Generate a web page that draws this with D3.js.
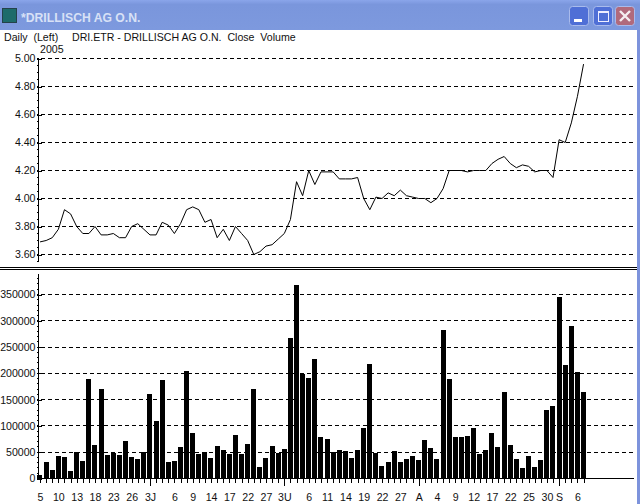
<!DOCTYPE html>
<html>
<head>
<meta charset="utf-8">
<script src="https://cdn.jsdelivr.net/npm/d3@7"></script>
<style>
  html, body { margin: 0; padding: 0; background: #fff; }
  svg { display: block; }
  text { font-family: "Liberation Sans", Arial, sans-serif; font-size: 10.6px; fill: #111; }
</style>
</head>
<body>
<div id="chart"></div>
<script>
const closeValues = [3.69,3.70,3.72,3.78,3.92,3.89,3.80,3.75,3.75,3.80,3.74,3.74,3.75,3.72,3.72,3.80,3.82,3.78,3.74,3.74,3.83,3.81,3.75,3.82,3.92,3.94,3.92,3.83,3.85,3.72,3.78,3.70,3.80,3.75,3.70,3.60,3.62,3.66,3.67,3.71,3.75,3.85,4.12,4.02,4.20,4.10,4.19,4.19,4.19,4.14,4.14,4.14,4.15,4.00,3.92,4.01,4.00,4.04,4.02,4.06,4.02,4.01,4.00,4.00,3.97,4.00,4.07,4.20,4.20,4.20,4.19,4.20,4.20,4.20,4.25,4.28,4.30,4.25,4.22,4.24,4.23,4.19,4.20,4.20,4.15,4.42,4.40,4.54,4.73,4.96];
const volumeValues = [6000,31000,16000,42000,40000,14000,51000,33000,190000,63000,171000,44000,48000,44000,71000,40000,38000,51000,160000,109000,188000,31000,33000,59000,204000,86000,46000,50000,39000,61000,54000,46000,82000,46000,65000,171000,21000,39000,61000,48000,57000,268000,369000,199000,192000,228000,78000,76000,51000,54000,52000,39000,54000,96000,217000,48000,23000,31000,52000,31000,37000,42000,35000,73000,58000,37000,282000,190000,78000,78000,80000,96000,46000,54000,86000,59000,164000,63000,37000,20000,42000,22000,35000,130000,137000,346000,215000,291000,202000,164000];
const closeTicks = [3.6,3.8,4.0,4.2,4.4,4.6,4.8,5.0];
const volumeTicks = [0,50000,100000,150000,200000,250000,300000,350000];
// bar number (from 0) -> label on the date axis
const dateIndex = [0,3,6,9,12,15,18,22,25,28,31,34,37,40,44,47,50,53,56,59,62,65,68,71,74,77,80,83,85,88];
const dateLabels = ["5","10","13","18","23","26","3J","6","9","14","17","22","27","3U","6","11","14","19","22","27","A","4","9","12","17","22","25","30","S","6"];
const monthIndex = [18,40,62,85];
const titleText = "*DRILLISCH AG O.N.";
const headerLeft = "Daily  (Left)";
const headerText = "DRI.ETR - DRILLISCH AG O.N.  Close  Volume";
const yearText = "2005";

const width = 640, height = 504;
const titleH = 30, borderR = 3;
const axisX = 38, gridEnd = 634;

const svg = d3.select('#chart').append('svg')
  .attr('width', width)
  .attr('height', height);

svg.append('rect').attr('width', width).attr('height', height).attr('fill', '#fff');

/** window frame */
const defs = svg.append('defs');
const grad = defs.append('linearGradient').attr('id', 'bar').attr('x1', 0).attr('x2', 0).attr('y1', 0).attr('y2', 1);
grad.append('stop').attr('offset', '0').attr('stop-color', '#8aa5ea');
grad.append('stop').attr('offset', '0.15').attr('stop-color', '#7a96dc');
grad.append('stop').attr('offset', '1').attr('stop-color', '#7d99de');

svg.append('rect').attr('width', width).attr('height', titleH).attr('fill', 'url(#bar)');
svg.append('rect').attr('x', width - borderR).attr('y', titleH).attr('width', borderR).attr('height', height - titleH).attr('fill', '#7d93dc');

svg.append('rect').attr('x', 2.5).attr('y', 8.5).attr('width', 14).attr('height', 14).attr('fill', '#1d6b6b').attr('stroke', '#24424a');
svg.append('text').attr('x', 21).attr('y', 21.5).text(titleText)
  .style('font-size', '12.2px').style('font-weight', 'bold').style('fill', '#d8e1f6');

const buttons = [
  {x: 569.5, fill: '#4f6fd6'},
  {x: 593.5, fill: '#4f6fd6'},
  {x: 615.5, fill: '#b06a7c'}
];
svg.selectAll('.winbtn').data(buttons).enter().append('rect')
  .attr('class', 'winbtn')
  .attr('x', d => d.x).attr('y', 6.5)
  .attr('width', 19).attr('height', 19).attr('rx', 3)
  .attr('fill', d => d.fill).attr('stroke', '#a9bbec');
svg.append('rect').attr('x', 574).attr('y', 19).attr('width', 8).attr('height', 3).attr('fill', '#fff');
svg.append('rect').attr('x', 598.5).attr('y', 12.5).attr('width', 10).attr('height', 9).attr('fill', 'none').attr('stroke', '#eef').attr('stroke-width', 1);
svg.append('rect').attr('x', 598).attr('y', 11).attr('width', 11).attr('height', 2).attr('fill', '#eef');
svg.append('path').attr('d', 'M620,11 L630,21 M630,11 L620,21').attr('stroke', '#f4eef0').attr('stroke-width', 2.4);

/** header */
svg.append('text').attr('x', 4).attr('y', 41).style('white-space', 'pre').text(headerLeft);
svg.append('text').attr('x', 72).attr('y', 41).style('white-space', 'pre').text(headerText);
svg.append('text').attr('x', 40).attr('y', 53).text(yearText);

/** panel divider */
svg.append('line').attr('x1', 0).attr('x2', width - borderR).attr('y1', 267.5).attr('y2', 267.5).attr('stroke', '#000');
svg.append('line').attr('x1', 0).attr('x2', width - borderR).attr('y1', 269.5).attr('y2', 269.5).attr('stroke', '#000');

/** scales */
const indexes = d3.range(volumeValues.length);
const scaleX = d3.scaleBand()
  .domain(indexes)
  .range([37, 586.6])
  .paddingInner(0.16)
  .paddingOuter(0.08);
const centerX = i => scaleX(i) + scaleX.bandwidth() / 2;

const scaleClose = d3.scaleLinear().domain([3.6, 5.0]).range([254.5, 58.5]);
const scaleVolume = d3.scaleLinear().domain([0, 350000]).range([478.5, 294.5]);
const crisp = v => Math.round(v - 0.5) + 0.5;

/** grids */
function drawGrid(ticks, scale) {
  svg.append('g').selectAll('line').data(ticks).enter().append('line')
    .attr('x1', axisX + 3).attr('x2', gridEnd)
    .attr('y1', d => crisp(scale(d))).attr('y2', d => crisp(scale(d)))
    .attr('stroke', '#000')
    .attr('stroke-dasharray', '4,3');
}
drawGrid(closeTicks, scaleClose);
drawGrid(volumeTicks.slice(1), scaleVolume);

/** y axes */
const closeAxis = d3.axisLeft(scaleClose)
  .tickValues(closeTicks)
  .tickSize(0)
  .tickPadding(3)
  .tickFormat(d3.format('.2f'));
const closeG = svg.append('g').attr('transform', `translate(${axisX + 0.5},0)`).call(closeAxis);

const volumeAxis = d3.axisLeft(scaleVolume)
  .tickValues(volumeTicks)
  .tickSize(0)
  .tickPadding(3)
  .tickFormat(d3.format('d'));
const volumeG = svg.append('g').attr('transform', `translate(${axisX + 0.5},0)`).call(volumeAxis);

[closeG, volumeG].forEach(g => {
  g.select('.domain').remove();
  g.attr('font-family', null).attr('font-size', null);
  g.selectAll('.tick line').attr('x1', -2).attr('x2', 3).attr('stroke', '#000').attr('shape-rendering', 'crispEdges');
});

// axis lines with the small ticks
function drawSpine(y0, y1, minor, scale) {
  svg.append('line').attr('x1', axisX + 0.5).attr('x2', axisX + 0.5).attr('y1', y0).attr('y2', y1).attr('stroke', '#000');
  svg.append('g').selectAll('line').data(minor).enter().append('line')
    .attr('x1', axisX - 1).attr('x2', axisX + 1)
    .attr('y1', d => crisp(scale(d))).attr('y2', d => crisp(scale(d)))
    .attr('stroke', '#000');
}
drawSpine(58, 261, d3.range(3.55, 5.0, 0.05), scaleClose);
drawSpine(274, 479, d3.range(0, 390000, 10000), scaleVolume);

/** price line */
svg.append('path')
  .datum(closeValues)
  .attr('fill', 'none')
  .attr('stroke', '#000')
  .attr('stroke-width', 1)
  .attr('stroke-linejoin', 'round')
  .attr('d', d3.line()
    .x((d, i) => centerX(i))
    .y(d => scaleClose(d)));

/** volume bars */
svg.append('g').attr('shape-rendering', 'crispEdges').selectAll('rect')
  .data(volumeValues)
  .enter().append('rect')
    .attr('x', (d, i) => Math.round(scaleX(i)))
    .attr('y', d => Math.round(scaleVolume(d)))
    .attr('width', Math.round(scaleX.bandwidth()))
    .attr('height', d => Math.round(scaleVolume(0)) - Math.round(scaleVolume(d)))
    .attr('fill', '#000');

/** date axis */
const dateScale = d3.scalePoint().domain(indexes).range([centerX(0), centerX(indexes.length - 1)]);
const dateAxis = d3.axisBottom(dateScale)
  .tickValues(indexes)
  .tickSize(4)
  .tickFormat(d => {
    const k = dateIndex.indexOf(d);
    return k >= 0 ? dateLabels[k] : '';
  });
const dateG = svg.append('g').attr('transform', 'translate(0,478.5)').call(dateAxis);
dateG.select('.domain').remove();
dateG.attr('font-family', null).attr('font-size', null);
dateG.selectAll('.tick line').attr('y2', d => monthIndex.includes(d) ? 7 : 4).attr('stroke', '#000').attr('shape-rendering', 'crispEdges');
dateG.selectAll('.tick text').attr('y', 15).attr('dy', '0.71em');

svg.append('line').attr('x1', axisX).attr('x2', gridEnd).attr('y1', 478.5).attr('y2', 478.5).attr('stroke', '#000');
</script>
</body>
</html>
